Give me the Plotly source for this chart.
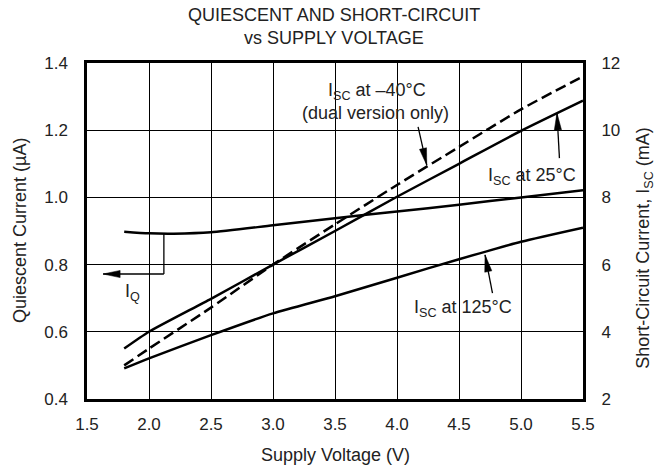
import math
import plotly.graph_objects as go

# ---- data ----
v_q = [1.8, 2.0, 2.2, 2.5, 3.0, 3.5, 4.0, 4.5, 5.0, 5.5]
iq = [0.898, 0.893, 0.892, 0.896, 0.917, 0.938, 0.958, 0.978, 1.0, 1.021]

v_sc = [1.8, 2.0, 2.5, 3.0, 3.5, 4.0, 4.5, 5.0, 5.5]
isc_25 = [3.5, 4.0, 4.98, 6.0, 7.0, 8.02, 9.0, 9.98, 10.88]
isc_m40 = [3.0, 3.5, 4.72, 6.0, 7.2, 8.37, 9.5, 10.62, 11.6]
isc_125 = [2.91, 3.21, 3.9, 4.55, 5.06, 5.61, 6.16, 6.68, 7.1]

x_ticks = [1.5, 2.0, 2.5, 3.0, 3.5, 4.0, 4.5, 5.0, 5.5]
yl_ticks = [0.4, 0.6, 0.8, 1.0, 1.2, 1.4]
yr_ticks = [2, 4, 6, 8, 10, 12]

FONT = "Liberation Sans, Arial, sans-serif"
TXT = "#222222"

# plot-area geometry (pixels)
PW, PH = 496, 336
XR = (1.5, 5.5)
YL = (0.4, 1.4)
YR = (2, 12)

fig = go.Figure()
line = dict(color="black", width=2.5, shape="spline", smoothing=0.6)
fig.add_trace(go.Scatter(x=v_q, y=iq, mode="lines", line=line, yaxis="y"))
fig.add_trace(go.Scatter(x=v_sc, y=isc_25, mode="lines", line=line, yaxis="y2"))
fig.add_trace(go.Scatter(x=v_sc, y=isc_m40, mode="lines",
                         line=dict(line, dash="11px,5px"), yaxis="y2"))
fig.add_trace(go.Scatter(x=v_sc, y=isc_125, mode="lines", line=line, yaxis="y2"))

ann = []
shapes = []

def label(text, x, y, yref="y2", size=18):
    ann.append(dict(text=text, x=x, y=y, xref="x", yref=yref, showarrow=False,
                    font=dict(family=FONT, size=size, color=TXT),
                    xanchor="center", yanchor="middle"))

def arrow(x0, y0, x1, y1, yref="y2", L=17, W=3.6):
    yr = YR if yref == "y2" else YL
    dx = (x1 - x0) / (XR[1] - XR[0]) * PW
    dy = -(y1 - y0) / (yr[1] - yr[0]) * PH
    n = math.hypot(dx, dy)
    ux, uy = dx / n, dy / n
    px, py = -uy, ux
    bx, by = -L * ux, -L * uy
    pts = [(0, 0), (bx + W * px, by + W * py), (bx - W * px, by - W * py)]
    path = "M" + " L".join(f"{a:.2f},{-b:.2f}" for a, b in pts) + " Z"
    shapes.append(dict(type="line", xref="x", yref=yref, x0=x0, y0=y0,
                       x1=x1, y1=y1, line=dict(color="black", width=1.3)))
    shapes.append(dict(type="path", xref="x", yref=yref, xsizemode="pixel",
                       ysizemode="pixel", xanchor=x1, yanchor=y1, path=path,
                       fillcolor="black", line=dict(color="black", width=0.5)))

label("I<sub>SC</sub> at \u201340\u00b0C", 3.84, 11.15)
label("(dual version only)", 3.83, 10.5)
arrow(4.17, 10.1, 4.24, 8.96)
label("I<sub>SC</sub> at 25\u00b0C", 5.09, 8.62)
arrow(5.31, 9.17, 5.29, 10.51)
label("I<sub>SC</sub> at 125\u00b0C", 4.53, 4.7)
arrow(4.77, 5.15, 4.71, 6.29)
label("I<sub>Q</sub>", 1.87, 0.718, yref="y")
arrow(2.12, 0.772, 1.63, 0.772, yref="y")
shapes.append(dict(type="line", xref="x", yref="y", x0=2.12, x1=2.12, y0=0.893,
                   y1=0.772, line=dict(color="black", width=1.3)))

def ptext(text, x, y, size, angle=0):
    ann.append(dict(text=text, x=x, y=y, xref="paper", yref="paper",
                    showarrow=False, textangle=angle,
                    font=dict(family=FONT, size=size, color=TXT),
                    xanchor="center", yanchor="middle"))

ptext("QUIESCENT AND SHORT-CIRCUIT", 0.498, (399 - 15) / 336, 18)
ptext("vs SUPPLY VOLTAGE", 0.498, (399 - 38) / 336, 18)
ptext("Supply Voltage (V)", 0.5, (399 - 455) / 336, 18)
ptext("Quiescent Current (\u00b5A)", (20 - 87) / 496, 0.5, 18, -90)
ptext("Short-Circuit Current, I<sub>SC</sub> (mA)", (645 - 87) / 496, 0.45, 18, -90)

axis_common = dict(showgrid=True, gridcolor="black", gridwidth=1, zeroline=False,
                   ticks="outside", tickcolor="rgba(0,0,0,0)",
                   tickfont=dict(family=FONT, size=17, color=TXT))

fig.update_layout(
    width=663, height=469, showlegend=False,
    margin=dict(l=87, r=80, t=63, b=70),
    paper_bgcolor="white", plot_bgcolor="white",
    xaxis=dict(axis_common, range=list(XR), tickvals=x_ticks,
               ticktext=[f"{v:.1f}" for v in x_ticks], ticklen=8,
               showline=True, linecolor="black", linewidth=2.5, mirror=True),
    yaxis=dict(axis_common, range=list(YL), tickvals=yl_ticks,
               ticktext=[f"{v:.1f}" for v in yl_ticks], ticklen=13,
               showline=True, linecolor="black", linewidth=2.5, mirror=True),
    yaxis2=dict(axis_common, range=list(YR), tickvals=yr_ticks, overlaying="y",
                side="right", showgrid=False, ticklen=14, showline=False),
    annotations=ann, shapes=shapes,
)

fig.write_html("out.html", config={"displayModeBar": False},
               post_script="document.body.style.margin='0';"
                           "document.body.style.overflow='hidden';")
